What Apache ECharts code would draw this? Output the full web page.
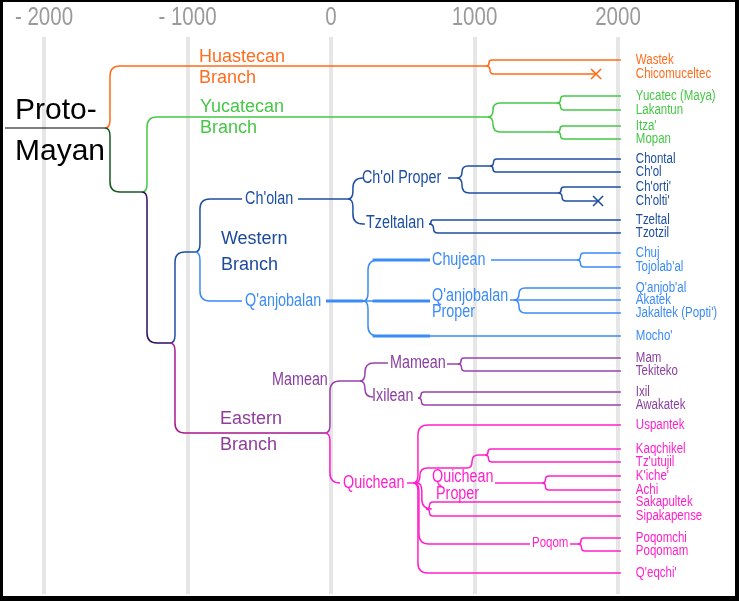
<!DOCTYPE html>
<html><head><meta charset="utf-8">
<script src="https://cdn.jsdelivr.net/npm/echarts@6/dist/echarts.min.js"></script>
<style>
html,body{margin:0;padding:0;background:#000;width:739px;height:601px;overflow:hidden}
#chart{position:absolute;left:3px;top:2px;width:732px;height:594px;background:#fff}
</style></head><body><div id="chart"></div>
<script>
// ---- axis ----
const tickYears = [-2000, -1000, 0, 1000, 2000];
const tickLabels = ['- 2000', '- 1000', '0', '1000', '2000'];
const presentYear = 2020;

// ---- leaves (living / extinct languages) ----
const leafNames = ['Wastek','Chicomuceltec','Yucatec (Maya)','Lakantun',"Itza'",'Mopan',
  'Chontal',"Ch'ol","Ch'orti'","Ch'olti'",'Tzeltal','Tzotzil',
  'Chuj',"Tojolab'al","Q'anjob'al",'Akatek',"Jakaltek (Popti')","Mocho'",
  'Mam','Tekiteko','Ixil','Awakatek',
  'Uspantek','Kaqchikel',"Tz'utujil","K'iche'",'Achi','Sakapultek','Sipakapense','Poqomchi','Poqomam',"Q'eqchi'"];
const leafRows = [60,74,96,110,126,139, 159,172,187,201,220,233, 253,267,288,300,313,336, 358,371,392,405, 425,449,462,476,490,502,516,538,551,573];
const leafClades = ['hua','hua','yuc','yuc','yuc','yuc',
  'west','west','west','west','west','west',
  'qan','qan','qan','qan','qan','qan',
  'mamT','mamT','mamT','mamT',
  'qui','qui','qui','qui','qui','qui','qui','qui','qui','qui'];

// extinct markers: [year, row]
const extinct = [[1847, 74], [1861, 201]];
const extinctClades = ['hua', 'west'];

// ---- branches: [forkYear, forkRow, childRow, childYear] ----
const branches = [
  [-2272,128,128,-1575],
  [-1575,128,66,1080],[1080,66,60,2020],[1080,66,74,1847],
  [-1575,128,192,-1317],
  [-1317,192,117,1094],[1094,117,103,1575],[1094,117,132,1575],
  [1575,103,96,2020],[1575,103,110,2020],[1575,132,126,2020],[1575,132,139,2020],
  [-1317,192,343,-1122],
  [-1122,343,252,-948],
  [-1122,343,433,-42],
  [-948,252,199,-620],
  [-948,252,301,-620],
  [-230,199,199,118],
  [118,199,178,205],[118,199,224,236],
  [815,178,178,878],[878,178,166,1108],[878,178,193,1582],
  [1108,166,159,2020],[1108,166,172,2020],[1582,193,187,2020],[1582,193,201,1861],
  [683,224,220,2020],[683,224,233,2020],
  [-35,301,301,223],
  [223,301,260,690],[223,301,301,690],[223,301,336,2020],
  [1115,260,260,1714],[1714,260,253,2020],[1714,260,267,2020],
  [1247,300,300,1275],[1275,300,288,2020],[1275,300,300,2020],[1275,300,313,2020],
  [-42,433,381,202],
  [-42,433,483,63],
  [202,381,363,397],[202,381,397,272],
  [808,364,364,885],[885,364,358,2020],[885,364,371,2020],
  [606,398,392,2020],[606,398,405,2020],
  [530,483,483,571],
  [571,483,425,2020],
  [585,483,468,948],
  [598,483,509,662],
  [578,483,544,1387],
  [571,483,573,2020],
  [948,468,455,1073],[1073,455,449,2020],[1073,455,462,2020],
  [1143,483,483,1470],[1470,483,476,2020],[1470,483,490,2020],
  [662,509,502,2020],[662,509,516,2020],
  [1666,544,544,1721],[1721,544,538,2020],[1721,544,551,2020]
];
const branchClade = [
  'root',
  'hua','hua','hua',
  'core',
  'yuc','yuc','yuc',
  'yuc','yuc','yuc','yuc',
  'stem',
  'west',
  'east',
  'west',
  'qan',
  'west',
  'west','west',
  'west','west','west',
  'west','west','west','west',
  'west','west',
  'qan',
  'qan','qan','qan',
  'qan','qan','qan',
  'qan','qan','qan','qan',
  'mam',
  'qui',
  'mam','mam',
  'mam','mam','mam',
  'mam','mam',
  'qui','qui','qui','qui','qui','qui',
  'qui','qui','qui',
  'qui','qui','qui',
  'qui','qui',
  'qui','qui','qui'
];
// heavier horizontal runs in the Q'anjobalan group: [fromYear, toYear, row]
const heavyRuns = [[-35,223,301],[290,690,260],[290,690,301],[290,690,336]];

// ---- labels: [text, year, row, clade] ----
const rootLabels = [['Proto-',-2202,111,'root'],['Mayan',-2202,152,'root']];
const branchLabels = [
  ['Huastecan',-920,57,'hua'],['Branch',-920,78,'hua'],
  ['Yucatecan',-913,107,'yuc'],['Branch',-913,128,'yuc'],
  ['Western',-767,239,'westT'],['Branch',-767,265,'westT'],
  ['Eastern',-774,419,'eastT'],['Branch',-774,445,'eastT']
];
const groupLabels = [
  ["Ch'olan",-599,199,'west'],["Q'anjobalan",-599,301,'qan'],
  ["Ch'ol Proper",216,178,'west'],['Tzeltalan',244,223,'west'],
  ['Chujean',704,260,'qan'],["Q'anjobalan",704,296,'qan'],['Proper',704,312,'qan'],
  ['Mamean',-411,380,'mamT'],['Mamean',411,363,'mamT'],['Ixilean',286,396,'mamT'],
  ['Quichean',84,483,'qui'],['Quichean',704,477,'qui'],['Proper',732,494,'qui']
];
const smallLabels = [['Poqom',1401,543,'qui']];

// ---- styles ----
const lineColor = {root:'#000000', hua:'#ff6a17', yuc:'#46c746', core:'#165a20', stem:'#2c0f5e',
  west:'#1e4ea2', qan:'#3b8bf7', east:'#a8198e', mam:'#9a42ab', qui:'#ff20cc'};
const textColor = Object.assign({}, lineColor, {westT:'#1d4a9b', eastT:'#8f3c9d', mamT:'#8b3fa1', hua:'#ff6d1f'});
const SANS = '"Liberation Sans",Arial,sans-serif';
const NARROW_SCALE = 0.82;   // Arial Narrow ≈ Arial squeezed to 82 %

function bracketPath(x0, y0, y1, x1) {
  if (Math.abs(y1 - y0) < 0.5) return 'M' + x0 + ',' + y0 + 'L' + x1 + ',' + y1;
  const s = y1 > y0 ? 1 : -1;
  const span = Math.abs(y1 - y0);
  const r1 = Math.min(8, span / 2), r2 = Math.min(10, span / 2);
  const xv = x0 + Math.min(5, r1);
  return 'M' + x0 + ',' + y0 +
    'Q' + xv + ',' + y0 + ' ' + xv + ',' + (y0 + s * r1) +
    'L' + xv + ',' + (y1 - s * r2) +
    'Q' + xv + ',' + y1 + ' ' + (xv + r2) + ',' + y1 +
    'L' + Math.max(x1, xv + r2) + ',' + y1;
}

function textEl(x, y, text, fill, size, sx, align) {
  return { type: 'text', x: x, y: y, scaleX: sx, scaleY: 1,
    style: { text: text, fill: fill, font: size + 'px ' + SANS,
      align: align || 'left', verticalAlign: 'middle',
      textAlign: align || 'left', textVerticalAlign: 'middle' } };
}

function textSeries(list, size, sx) {
  return {
    type: 'custom', clip: false, z: 7, silent: true,
    data: list.map(d => [d[1], d[2]]),
    renderItem: function (params, api) {
      const d = list[params.dataIndex];
      const p = api.coord([d[1], d[2]]);
      return textEl(p[0], p[1], d[0], textColor[d[3]], size, sx);
    }
  };
}

const chart = echarts.init(document.getElementById('chart'), null, {renderer: 'canvas'});
chart.setOption({
  animation: false,
  backgroundColor: '#ffffff',
  grid: { left: 41, width: 574, top: 35, height: 557, outerBoundsMode: 'none', containLabel: false },
  xAxis: {
    type: 'value', position: 'top', min: -2000, max: 2000, interval: 1000,
    axisLine: { show: false }, axisTick: { show: false }, axisLabel: { show: false },
    splitLine: { show: true, lineStyle: { color: '#e6e6e6', width: 4 } }
  },
  yAxis: { type: 'value', min: 37, max: 594, inverse: true, show: false, splitLine: { show: false } },
  series: [
    {
      type: 'custom', clip: false, z: 3, silent: true,
      data: branches,
      encode: { x: [0, 3], y: [1, 2] },
      renderItem: function (params, api) {
        const b = branches[params.dataIndex];
        const p0 = api.coord([b[0], b[1]]);
        const p1 = api.coord([b[3], b[2]]);
        const c = branchClade[params.dataIndex];
        return { type: 'path', shape: { pathData: bracketPath(p0[0], p0[1], p1[1], p1[0]) },
          style: { fill: 'none', stroke: lineColor[c], lineWidth: c === 'root' ? 1.2 : 1.5 } };
      }
    },
    {
      type: 'custom', clip: false, z: 4, silent: true,
      data: heavyRuns,
      renderItem: function (params, api) {
        const h = heavyRuns[params.dataIndex];
        const a = api.coord([h[0], h[2]]), b = api.coord([h[1], h[2]]);
        return { type: 'line', shape: { x1: a[0], y1: a[1], x2: b[0], y2: b[1] },
          style: { stroke: lineColor.qan, lineWidth: 3.2 } };
      }
    },
    {
      type: 'custom', clip: false, z: 5, silent: true,
      data: extinct,
      renderItem: function (params, api) {
        const e = extinct[params.dataIndex];
        const p = api.coord(e);
        const s = 5, col = lineColor[extinctClades[params.dataIndex]];
        return { type: 'group', children: [
          { type: 'line', shape: { x1: p[0] - s, y1: p[1] - s, x2: p[0] + s, y2: p[1] + s }, style: { stroke: col, lineWidth: 1.6 } },
          { type: 'line', shape: { x1: p[0] - s, y1: p[1] + s, x2: p[0] + s, y2: p[1] - s }, style: { stroke: col, lineWidth: 1.6 } }
        ] };
      }
    },
    {
      // time-axis labels
      type: 'custom', clip: false, z: 6, silent: true,
      data: tickYears.map(y => [y, 37]),
      renderItem: function (params, api) {
        const p = api.coord([tickYears[params.dataIndex], 37]);
        return textEl(p[0], p[1] - 19, tickLabels[params.dataIndex], '#9a9a9a', 25, NARROW_SCALE, 'center');
      }
    },
    {
      type: 'custom', clip: false, z: 6, silent: true,
      data: leafRows.map(r => [presentYear, r]),
      renderItem: function (params, api) {
        const p = api.coord([presentYear, leafRows[params.dataIndex]]);
        return textEl(p[0] + 15, p[1], leafNames[params.dataIndex], textColor[leafClades[params.dataIndex]], 14, NARROW_SCALE);
      }
    },
    textSeries(rootLabels, 30, 1),
    textSeries(branchLabels, 18, 1),
    textSeries(groupLabels, 17.5, NARROW_SCALE),
    textSeries(smallLabels, 14, NARROW_SCALE)
  ]
});
</script></body></html>
